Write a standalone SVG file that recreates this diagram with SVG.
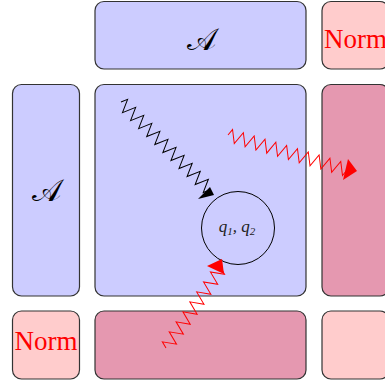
<svg xmlns="http://www.w3.org/2000/svg" width="385" height="381" viewBox="0 0 385 381">
<style>
.box{stroke:#333;stroke-width:1.2}
.blue{fill:#ccccff}
.lpink{fill:#ffcccc}
.mpink{fill:#e598b0}
.cal{font-family:"DejaVu Serif","DejaVu Sans","Liberation Serif",serif;font-size:31px;fill:#000;text-anchor:middle}
.norm{font-family:"Liberation Serif","DejaVu Serif",serif;font-size:27px;fill:#ff0000;text-anchor:middle}
.math{font-family:"Liberation Serif","DejaVu Serif",serif;font-style:italic;font-size:17px;fill:#222;text-anchor:middle}
.zz{fill:none;stroke-width:1;stroke-linejoin:miter}
</style>
<rect width="385" height="381" fill="#fff"/>
<g id="top-mid"><rect class="box blue" x="95" y="1.5" width="211" height="67.5" rx="9"/><text class="cal" x="201" y="50">𝒜</text></g>
<g id="top-right"><rect class="box lpink" x="322" y="1.5" width="67" height="67.5" rx="9"/><text class="norm" x="355.5" y="48">Norm</text></g>
<g id="left"><rect class="box blue" x="12.5" y="84.5" width="67" height="211.5" rx="9"/><text class="cal" x="46" y="201">𝒜</text></g>
<g id="center"><rect class="box blue" x="95" y="84.5" width="211" height="211.5" rx="9"/></g>
<g id="right"><rect class="box mpink" x="322" y="84.5" width="67" height="211.5" rx="9"/></g>
<g id="bottom-left"><rect class="box lpink" x="12.5" y="311" width="67" height="68" rx="9"/><text class="norm" x="46" y="350">Norm</text></g>
<g id="bottom-mid"><rect class="box mpink" x="95" y="311" width="211" height="68" rx="9"/></g>
<g id="bottom-right"><rect class="box lpink" x="322" y="311" width="67" height="68" rx="9"/></g>
<g id="q"><circle cx="238" cy="228" r="36.5" fill="none" stroke="#000" stroke-width="1"/><text class="math" x="237" y="232">q<tspan font-size="11" dy="3">1</tspan><tspan dy="-3">, q</tspan><tspan font-size="11" dy="3">2</tspan></text></g>
<g id="connectors">
<path class="zz" stroke="#000" transform="translate(121,102) rotate(44.7)" d="M0,0 l2.84,-6.5 l5.68,13 l5.68,-13 l5.68,13 l5.68,-13 l5.68,13 l5.68,-13 l5.68,13 l5.68,-13 l5.68,13 l5.68,-13 l5.68,13 l5.68,-13 l5.68,13 l5.68,-13 l5.68,13 l5.68,-13 l5.68,13 l5.68,-13 l5.68,13 l5.68,-13 l5.68,13 l2.84,-6.5"/>
<polygon points="198,199 210,187 214,195" fill="#000"/>
<path class="zz" stroke="#ff0000" transform="translate(228,135) rotate(16.4)" d="M0,0 l2.82,-6.5 l5.64,13 l5.64,-13 l5.64,13 l5.64,-13 l5.64,13 l5.64,-13 l5.64,13 l5.64,-13 l5.64,13 l5.64,-13 l5.64,13 l5.64,-13 l5.64,13 l5.64,-13 l5.64,13 l5.64,-13 l5.64,13 l5.64,-13 l5.64,13 l5.64,-13 l5.64,13 l2.82,-6.5"/>
<polygon points="343,180 348,159 357,171" fill="#ff0000"/>
<path class="zz" stroke="#ff0000" transform="translate(166,348) rotate(-55.5)" d="M0,0 l3.03,-6.5 l6.06,13 l6.06,-13 l6.06,13 l6.06,-13 l6.06,13 l6.06,-13 l6.06,13 l6.06,-13 l6.06,13 l6.06,-13 l6.06,13 l6.06,-13 l6.06,13 l6.06,-13 l6.06,13 l3.03,-6.5"/>
<polygon points="207,266 222,259 224,274" fill="#ff0000"/>
</g>
</svg>
